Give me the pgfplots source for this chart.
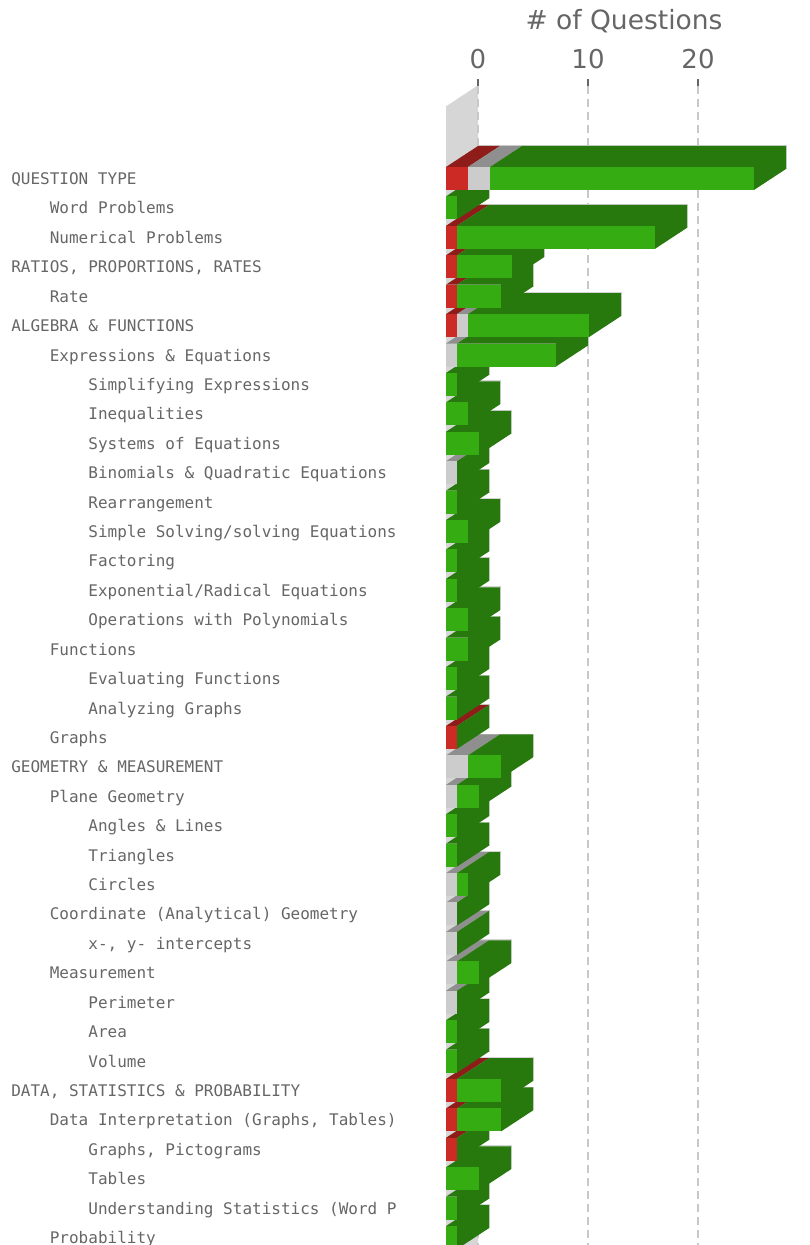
\documentclass[border=0pt]{standalone}
\usepackage{fontspec}
\usepackage{pgfplots}
\pgfplotsset{compat=1.18}
\setmainfont{DejaVu Sans}
\newfontfamily\monof{DejaVu Sans Mono}
\definecolor{txt}{HTML}{666666}
\definecolor{wallc}{HTML}{D6D6D6}
\definecolor{gridc}{HTML}{C8C8C8}
\definecolor{edgec}{HTML}{D4D4D4}
\definecolor{redF}{HTML}{CC2A25}
\definecolor{redT}{HTML}{8E1D1A}
\definecolor{grayF}{HTML}{CCCCCC}
\definecolor{grayT}{HTML}{8F8F8F}
\definecolor{greenF}{HTML}{36AC13}
\definecolor{greenT}{HTML}{27780D}
\newcommand\poly[2]{\addplot[fill=#1,draw=none,forget plot,no markers] coordinates {#2};}
% \Row{row}{red}{gray}{green}
\newcommand\Row[4]{%
  \pgfmathsetmacro\xa{-2.90909}%
  \pgfmathsetmacro\xb{\xa+#2}%
  \pgfmathsetmacro\xc{\xb+#3}%
  \pgfmathsetmacro\xd{\xc+#4}%
  \pgfmathsetmacro\xab{#2}%
  \pgfmathsetmacro\xbb{#2+#3}%
  \pgfmathsetmacro\xcb{#2+#3+#4}%
  \pgfmathsetmacro\xce{\xcb+0.09}%
  \pgfmathsetmacro\yt{#1-0.3909}%
  \pgfmathsetmacro\yb{#1+0.3909}%
  \pgfmathsetmacro\ybt{\yt-0.7138}%
  \pgfmathsetmacro\ybb{\yb-0.7138}%
  \pgfmathsetmacro\ybe{\ybt-0.03}%
  \poly{edgec}{(0,\ybe)(\xce,\ybe)(\xce,\ybb)(0,\ybb)}%
  \ifnum#2>0 \poly{redT}{(\xa,\yt)(\xb,\yt)(\xab,\ybt)(0,\ybt)}\fi
  \ifnum#3>0 \poly{grayT}{(\xb,\yt)(\xc,\yt)(\xbb,\ybt)(\xab,\ybt)}\fi
  \poly{greenT}{(\xc,\yt)(\xbb,\ybt)(\xcb,\ybt)(\xcb,\ybb)(\xd,\yb)(\xd,\yt)}%
  \ifnum#2>0 \poly{redF}{(\xa,\yt)(\xb,\yt)(\xb,\yb)(\xa,\yb)}\fi
  \ifnum#3>0 \poly{grayF}{(\xb,\yt)(\xc,\yt)(\xc,\yb)(\xb,\yb)}\fi
  \ifnum#4>0 \poly{greenF}{(\xc,\yt)(\xd,\yt)(\xd,\yb)(\xc,\yb)}\fi
}
\newcommand\la{\hspace*{38.55bp}}
\newcommand\lb{\hspace*{77.1bp}}
\begin{document}
\begin{tikzpicture}
\begin{axis}[
  at={(446bp,0bp)},anchor=south west,
  scale only axis,width=356bp,height=1159bp,
  set layers,
  xmin=-2.90909,xmax=29.4545,
  ymin=-3.1441,ymax=36.2509,y dir=reverse,
  axis line style={draw=none},
  xtick={0,10,20},xtick pos=upper,xticklabel pos=upper,
  tick align=outside,
  xmajorgrids,
  major grid style={draw=gridc,line width=1.3bp,dash pattern=on 8bp off 5bp},
  x tick style={draw=txt,line width=2bp},
  major tick length=7bp,
  y tick style={draw=none},
  ytick={0,...,36},
  ytick pos=left,
  yticklabels={
   QUESTION TYPE,
   \la Word Problems,
   \la Numerical Problems,
   {RATIOS, PROPORTIONS, RATES},
   \la Rate,
   ALGEBRA \& FUNCTIONS,
   \la Expressions \& Equations,
   \lb Simplifying Expressions,
   \lb Inequalities,
   \lb Systems of Equations,
   \lb Binomials \& Quadratic Equations,
   \lb Rearrangement,
   \lb Simple Solving/solving Equations,
   \lb Factoring,
   \lb Exponential/Radical Equations,
   \lb Operations with Polynomials,
   \la Functions,
   \lb Evaluating Functions,
   \lb Analyzing Graphs,
   \la Graphs,
   GEOMETRY \& MEASUREMENT,
   \la Plane Geometry,
   \lb Angles \& Lines,
   \lb Triangles,
   \lb Circles,
   \la Coordinate (Analytical) Geometry,
   \lb {x-, y- intercepts},
   \la Measurement,
   \lb Perimeter,
   \lb Area,
   \lb Volume,
   {DATA, STATISTICS \& PROBABILITY},
   \la {Data Interpretation (Graphs, Tables)},
   \lb {Graphs, Pictograms},
   \lb Tables,
   \lb Understanding Statistics (Word P,
   \la Probability},
  y tick label style={font=\monof\fontsize{16bp}{19bp}\selectfont,text=txt,
    anchor=east,inner sep=0pt,text width=435bp,
    execute at begin node={\spaceskip=9.632bp\relax\xspaceskip=9.632bp\relax},
    text height=12bp,text depth=4bp,xshift=7.5bp,yshift=-2bp},
  /pgf/number format/assume math mode=true,
  x tick label style={font=\fontsize{26bp}{30bp}\selectfont,text=txt,inner sep=0pt,anchor=south,yshift=10bp},
  xlabel={\# of Questions},
  xlabel style={font=\fontsize{26.5bp}{30bp}\selectfont,text=txt,inner sep=0pt,
    at={(axis description cs:0.5,1)},anchor=south,yshift=53bp},
]
\addplot[fill=wallc,draw=none,forget plot,no markers,on layer=axis background]
  coordinates {(-2.90909,-2.45)(0,-3.17)(0,38)(-2.90909,38)};
\Row{36}{0}{0}{1}
\Row{35}{0}{0}{1}
\Row{34}{0}{0}{3}
\Row{33}{1}{0}{0}
\Row{32}{1}{0}{4}
\Row{31}{1}{0}{4}
\Row{30}{0}{0}{1}
\Row{29}{0}{0}{1}
\Row{28}{0}{1}{0}
\Row{27}{0}{1}{2}
\Row{26}{0}{1}{0}
\Row{25}{0}{1}{0}
\Row{24}{0}{1}{1}
\Row{23}{0}{0}{1}
\Row{22}{0}{0}{1}
\Row{21}{0}{1}{2}
\Row{20}{0}{2}{3}
\Row{19}{1}{0}{0}
\Row{18}{0}{0}{1}
\Row{17}{0}{0}{1}
\Row{16}{0}{0}{2}
\Row{15}{0}{0}{2}
\Row{14}{0}{0}{1}
\Row{13}{0}{0}{1}
\Row{12}{0}{0}{2}
\Row{11}{0}{0}{1}
\Row{10}{0}{1}{0}
\Row{9}{0}{0}{3}
\Row{8}{0}{0}{2}
\Row{7}{0}{0}{1}
\Row{6}{0}{1}{9}
\Row{5}{1}{1}{11}
\Row{4}{1}{0}{4}
\Row{3}{1}{0}{5}
\Row{2}{1}{0}{18}
\Row{1}{0}{0}{1}
\Row{0}{2}{2}{24}
\end{axis}
\pgfresetboundingbox
\path[use as bounding box] (0bp,0bp) rectangle (810bp,1245bp);
\end{tikzpicture}
\end{document}
